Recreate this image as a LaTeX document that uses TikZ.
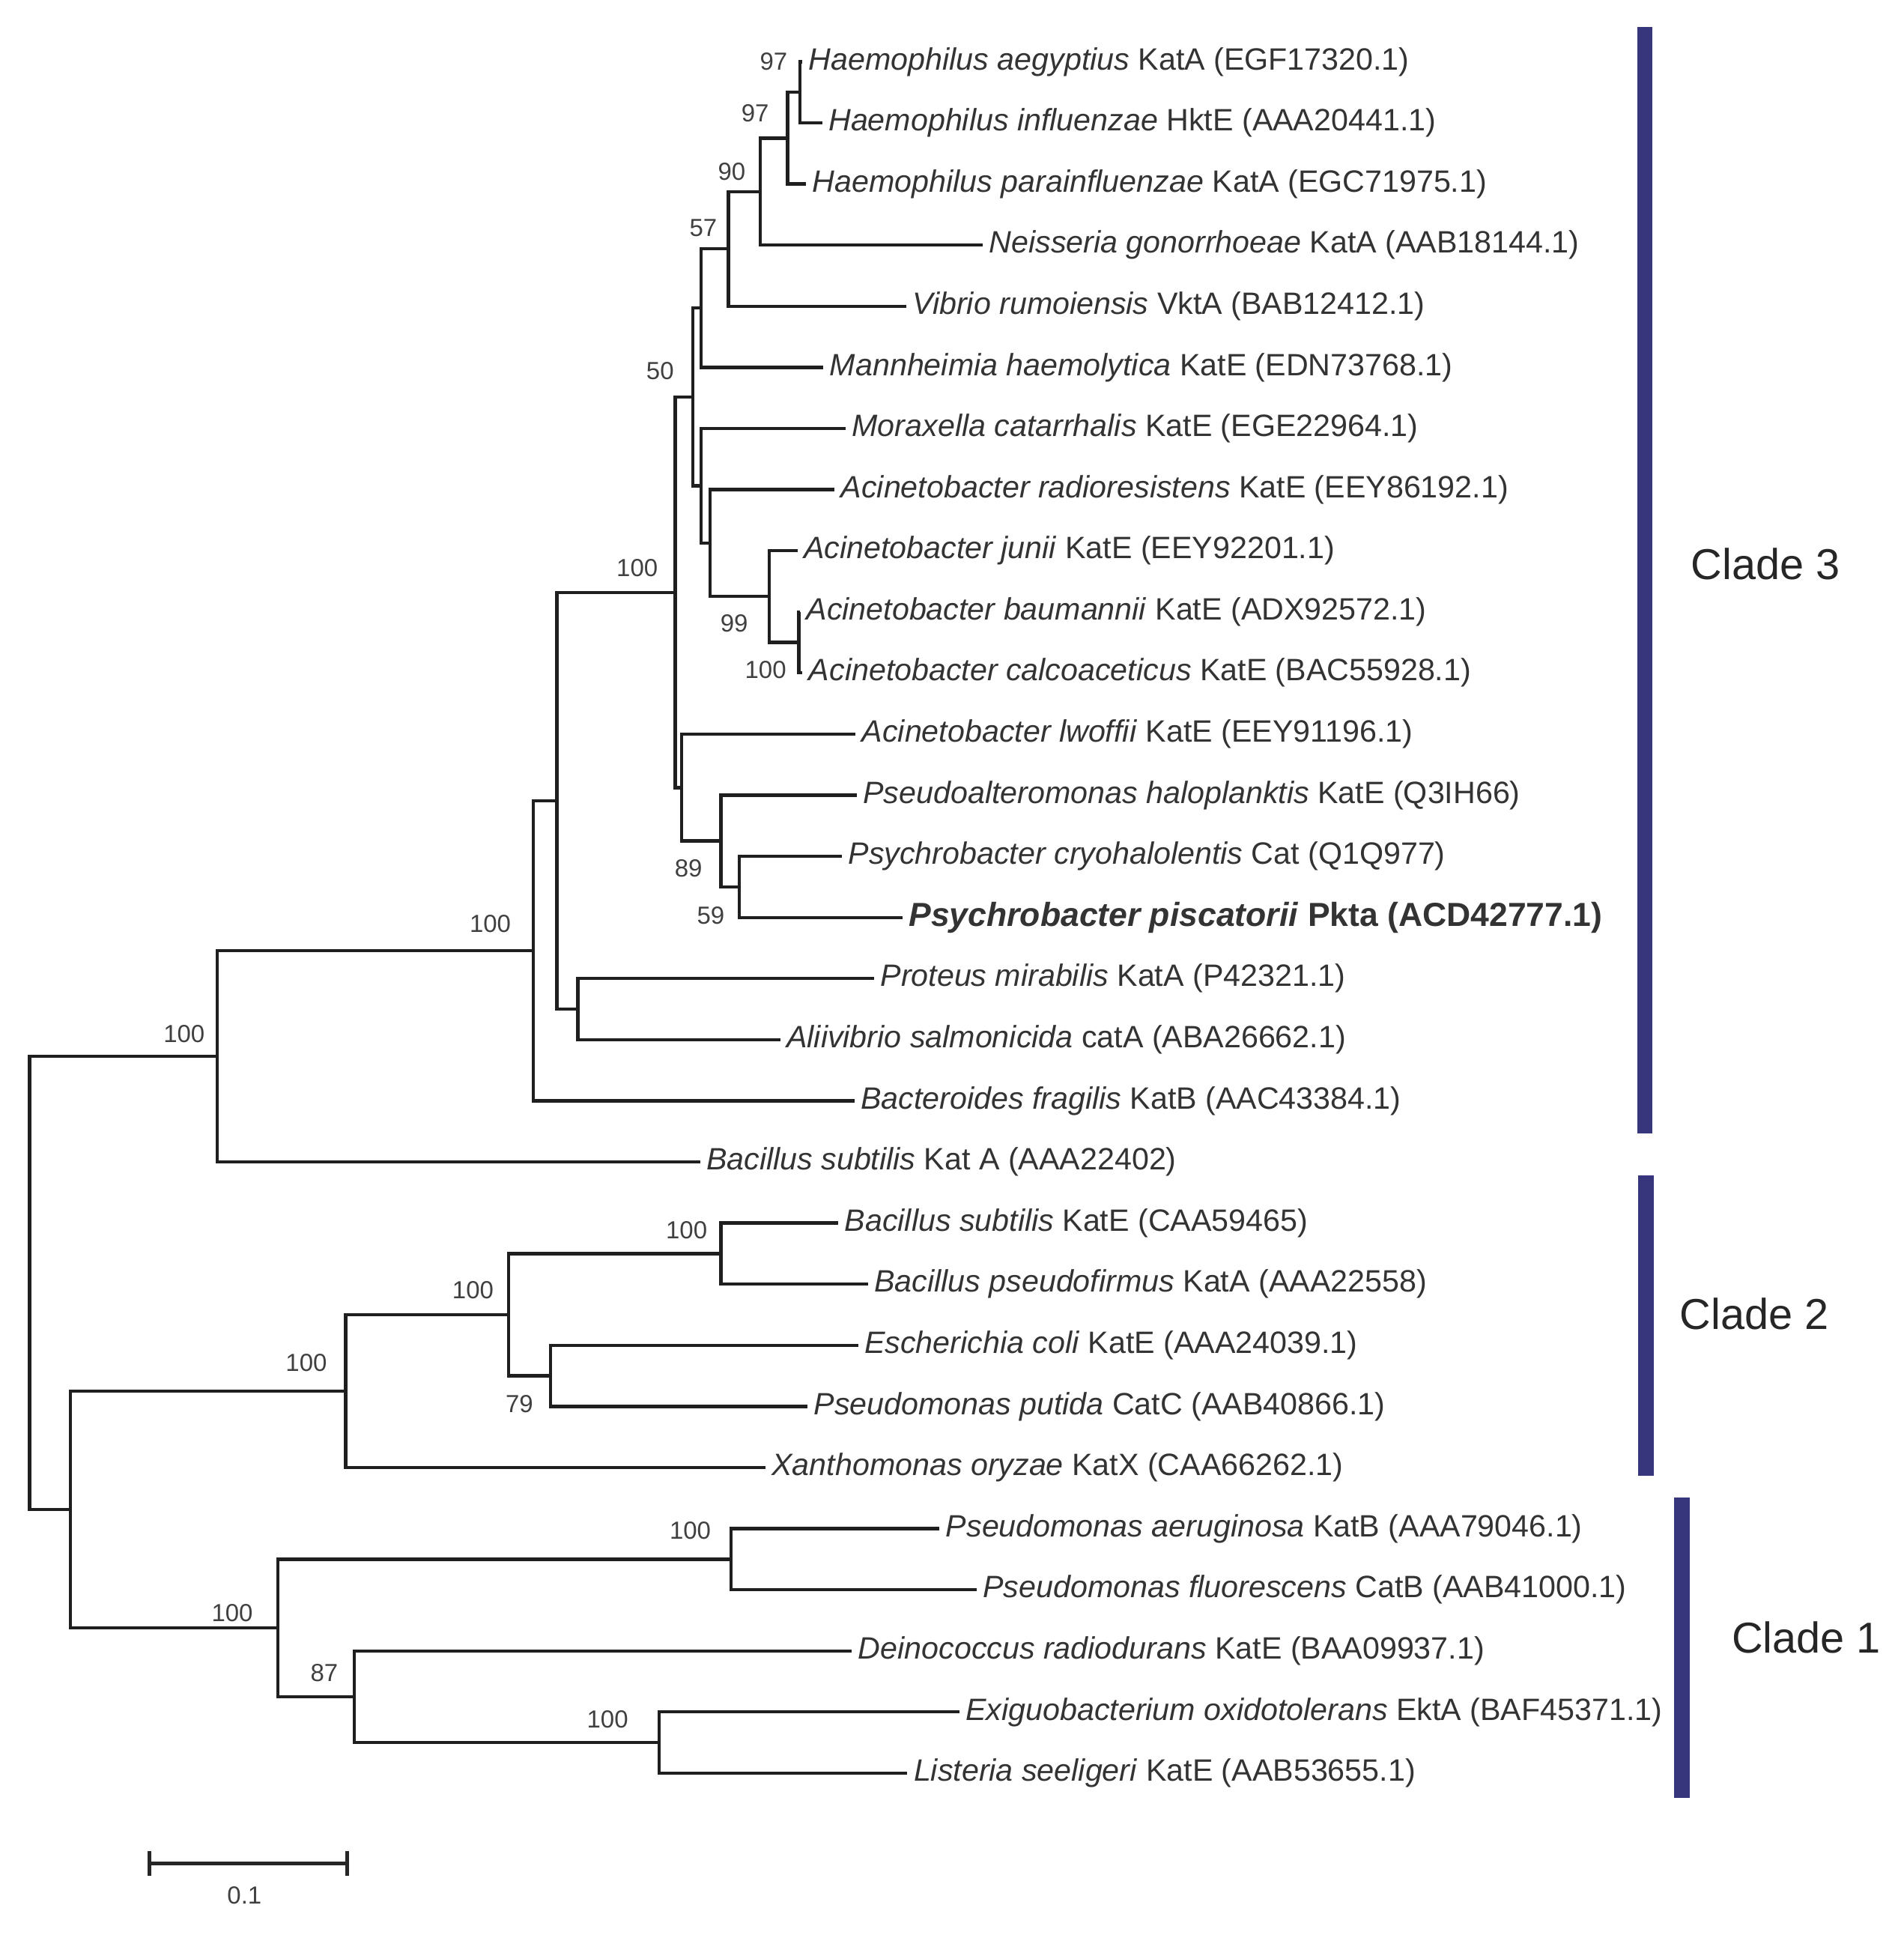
\documentclass[tikz,border=0pt]{standalone}
\usepackage{fontspec}
\setmainfont{Liberation Sans}
\definecolor{cladeblue}{RGB}{55,54,125}
\begin{document}
\begin{tikzpicture}[x=1pt,y=-1pt,
    branch/.style={line width=2.6pt,draw=black!88},
    leaf/.style={anchor=west,inner xsep=5pt,inner ysep=0pt,text=black!80,font=\fontsize{25}{30}\selectfont},
    boot/.style={anchor=east,inner sep=0pt,text=black!75,font=\fontsize{20}{24}\selectfont},
    clade/.style={text=black!85,font=\fontsize{35}{42}\selectfont},
    cladebar/.style={fill=cladeblue}]
  \useasboundingbox (0,0) rectangle (1542.2,1567.1);

  % Leaves, clade 3
  \node[leaf] (haeAeg) at (650,50) {\textit{Haemophilus aegyptius} KatA (EGF17320.1)};
  \node[leaf] (haeInf) at (666,99.5) {\textit{Haemophilus influenzae} HktE (AAA20441.1)};
  \node[leaf] (haePar) at (653,149) {\textit{Haemophilus parainfluenzae} KatA (EGC71975.1)};
  \node[leaf] (neiGon) at (796,198.5) {\textit{Neisseria gonorrhoeae} KatA (AAB18144.1)};
  \node[leaf] (vibRum) at (734,248) {\textit{Vibrio rumoiensis} VktA (BAB12412.1)};
  \node[leaf] (manHae) at (667,297.5) {\textit{Mannheimia haemolytica} KatE (EDN73768.1)};
  \node[leaf] (morCat) at (685,347) {\textit{Moraxella catarrhalis} KatE (EGE22964.1)};
  \node[leaf] (aciRad) at (676,396.5) {\textit{Acinetobacter radioresistens} KatE (EEY86192.1)};
  \node[leaf] (aciJun) at (646,446) {\textit{Acinetobacter junii} KatE (EEY92201.1)};
  \node[leaf] (aciBau) at (648,495.5) {\textit{Acinetobacter baumannii} KatE (ADX92572.1)};
  \node[leaf] (aciCal) at (650,545) {\textit{Acinetobacter calcoaceticus} KatE (BAC55928.1)};
  \node[leaf] (aciLwo) at (693,594.5) {\textit{Acinetobacter lwoffii} KatE (EEY91196.1)};
  \node[leaf] (psaHal) at (694,644) {\textit{Pseudoalteromonas haloplanktis} KatE (Q3IH66)};
  \node[leaf] (psyCry) at (682,693.5) {\textit{Psychrobacter cryohalolentis} Cat (Q1Q977)};
  \node[leaf,font=\fontsize{27}{32}\selectfont] (psyPis) at (731,743) {\textbf{\textit{Psychrobacter piscatorii} Pkta (ACD42777.1)}};
  \node[leaf] (proMir) at (708,792.5) {\textit{Proteus mirabilis} KatA (P42321.1)};
  \node[leaf] (aliSal) at (632,842) {\textit{Aliivibrio salmonicida} catA (ABA26662.1)};
  \node[leaf] (bacFra) at (692,891.5) {\textit{Bacteroides fragilis} KatB (AAC43384.1)};
  \node[leaf] (bsuKatA) at (567,941) {\textit{Bacillus subtilis} Kat A (AAA22402)};
  % Leaves, clade 2
  \node[leaf] (bsuKatE) at (679,990.5) {\textit{Bacillus subtilis} KatE (CAA59465)};
  \node[leaf] (bacPse) at (703,1040) {\textit{Bacillus pseudofirmus} KatA (AAA22558)};
  \node[leaf] (escCol) at (695,1089.5) {\textit{Escherichia coli} KatE (AAA24039.1)};
  \node[leaf] (psePut) at (654,1139) {\textit{Pseudomonas putida} CatC (AAB40866.1)};
  \node[leaf] (xanOry) at (620,1188.5) {\textit{Xanthomonas oryzae} KatX (CAA66262.1)};
  % Leaves, clade 1
  \node[leaf] (pseAer) at (761,1238) {\textit{Pseudomonas aeruginosa} KatB (AAA79046.1)};
  \node[leaf] (pseFlu) at (791,1287.5) {\textit{Pseudomonas fluorescens} CatB (AAB41000.1)};
  \node[leaf] (deiRad) at (690,1337) {\textit{Deinococcus radiodurans} KatE (BAA09937.1)};
  \node[leaf] (exiOxi) at (777,1386.5) {\textit{Exiguobacterium oxidotolerans} EktA (BAF45371.1)};
  \node[leaf] (lisSee) at (735,1436) {\textit{Listeria seeligeri} KatE (AAB53655.1)};

  % Inner nodes
  \coordinate (k1) at (648,74.75);
  \coordinate (k2) at (638,111.9);
  \coordinate (k3) at (616,155.2);
  \coordinate (k4) at (590,201.6);
  \coordinate (k5) at (568,249.5);
  \coordinate (p1) at (561,321.5);
  \coordinate (p2) at (568,393.4);
  \coordinate (p3) at (575,439.9);
  \coordinate (q) at (623,483);
  \coordinate (r) at (647,520.25);
  \coordinate (l) at (547,479.7);
  \coordinate (m) at (552,637.9);
  \coordinate (n) at (584,681);
  \coordinate (o) at (599,718.25);
  \coordinate (c) at (451,648.4);
  \coordinate (d) at (468,817.25);
  \coordinate (b) at (432,770);
  \coordinate (a) at (176,855.5);
  \coordinate (h) at (584,1015.25);
  \coordinate (i) at (446,1114.25);
  \coordinate (g) at (412,1064.75);
  \coordinate (f) at (280,1126.6);
  \coordinate (s) at (592,1262.75);
  \coordinate (u) at (534,1411.25);
  \coordinate (t) at (287,1374.1);
  \coordinate (j) at (225,1318.4);
  \coordinate (e) at (57,1222.5);
  \coordinate (root) at (24,1039);

  % Branches
  \draw[branch] (k1) |- (haeAeg.west) (k1) |- (haeInf.west);
  \draw[branch] (k2) |- (k1) (k2) |- (haePar.west);
  \draw[branch] (k3) |- (k2) (k3) |- (neiGon.west);
  \draw[branch] (k4) |- (k3) (k4) |- (vibRum.west);
  \draw[branch] (k5) |- (k4) (k5) |- (manHae.west);
  \draw[branch] (r) |- (aciBau.west) (r) |- (aciCal.west);
  \draw[branch] (q) |- (aciJun.west) (q) |- (r);
  \draw[branch] (p3) |- (aciRad.west) (p3) |- (q);
  \draw[branch] (p2) |- (morCat.west) (p2) |- (p3);
  \draw[branch] (p1) |- (k5) (p1) |- (p2);
  \draw[branch] (o) |- (psyCry.west) (o) |- (psyPis.west);
  \draw[branch] (n) |- (psaHal.west) (n) |- (o);
  \draw[branch] (m) |- (aciLwo.west) (m) |- (n);
  \draw[branch] (l) |- (p1) (l) |- (m);
  \draw[branch] (d) |- (proMir.west) (d) |- (aliSal.west);
  \draw[branch] (c) |- (l) (c) |- (d);
  \draw[branch] (b) |- (c) (b) |- (bacFra.west);
  \draw[branch] (a) |- (b) (a) |- (bsuKatA.west);
  \draw[branch] (h) |- (bsuKatE.west) (h) |- (bacPse.west);
  \draw[branch] (i) |- (escCol.west) (i) |- (psePut.west);
  \draw[branch] (g) |- (h) (g) |- (i);
  \draw[branch] (f) |- (g) (f) |- (xanOry.west);
  \draw[branch] (s) |- (pseAer.west) (s) |- (pseFlu.west);
  \draw[branch] (u) |- (exiOxi.west) (u) |- (lisSee.west);
  \draw[branch] (t) |- (deiRad.west) (t) |- (u);
  \draw[branch] (j) |- (s) (j) |- (t);
  \draw[branch] (e) |- (f) (e) |- (j);
  \draw[branch] (root) |- (a) (root) |- (e);

  % Bootstrap values
  \node[boot] (bsK1) at ([shift={(-10,-25)}]k1) {97};
  \node[boot] (bsK2) at ([shift={(-15,-20)}]k2) {97};
  \node[boot] (bsK3) at ([shift={(-12,-16)}]k3) {90};
  \node[boot] (bsK4) at ([shift={(-9,-17)}]k4) {57};
  \node[boot] (bsP1) at ([shift={(-15,-21)}]p1) {50};
  \node[boot] (bsL) at ([shift={(-14,-20)}]l) {100};
  \node[boot] (bsQ) at ([shift={(-17,22)}]q) {99};
  \node[boot] (bsR) at ([shift={(-10,22)}]r) {100};
  \node[boot] (bsN) at ([shift={(-15,22)}]n) {89};
  \node[boot] (bsO) at ([shift={(-12,23)}]o) {59};
  \node[boot] (bsB) at ([shift={(-18,-22)}]b) {100};
  \node[boot] (bsA) at ([shift={(-10,-18)}]a) {100};
  \node[boot] (bsH) at ([shift={(-11,-19)}]h) {100};
  \node[boot] (bsG) at ([shift={(-12,-20)}]g) {100};
  \node[boot] (bsI) at ([shift={(-14,23)}]i) {79};
  \node[boot] (bsF) at ([shift={(-15,-23)}]f) {100};
  \node[boot] (bsS) at ([shift={(-16,-23)}]s) {100};
  \node[boot] (bsJ) at ([shift={(-20,-12)}]j) {100};
  \node[boot] (bsT) at ([shift={(-13,-19)}]t) {87};
  \node[boot] (bsU) at ([shift={(-25,-19)}]u) {100};

  % Clades
  \fill[cladebar] (1326,22) rectangle (1338.5,918);
  \fill[cladebar] (1327,952) rectangle (1339.5,1195);
  \fill[cladebar] (1356,1213) rectangle (1368.5,1456);
  \node[clade] (clade3) at (1430,457) {Clade 3};
  \node[clade] (clade2) at (1421,1064) {Clade 2};
  \node[clade] (clade1) at (1463,1326) {Clade 1};

  % Scale bar
  \coordinate (sbL) at (121,1509);
  \coordinate (sbR) at (281,1509);
  \draw[line width=3pt,black!85] (sbL) -- (sbR);
  \draw[line width=3pt,black!85] ([yshift=-10pt]sbL) -- ([yshift=10pt]sbL);
  \draw[line width=3pt,black!85] ([yshift=-10pt]sbR) -- ([yshift=10pt]sbR);
  \node[boot,anchor=center] (sbText) at (198,1535) {0.1};
\end{tikzpicture}
\end{document}
